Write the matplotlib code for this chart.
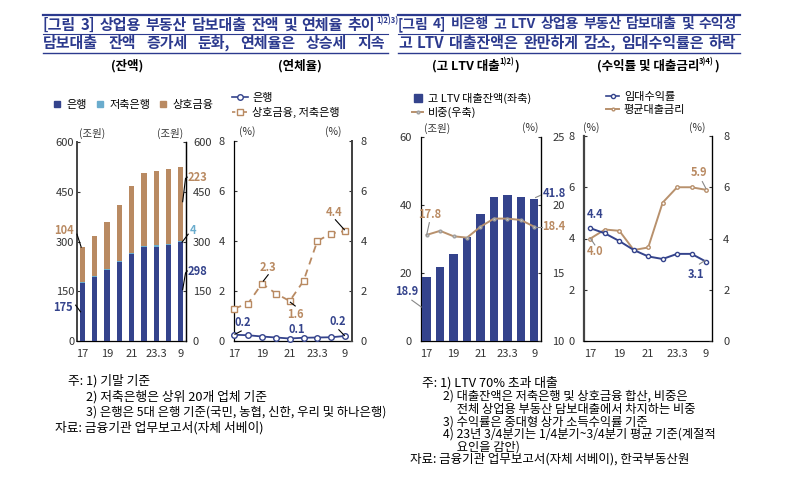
import matplotlib
matplotlib.use('Agg')
import matplotlib.pyplot as plt
from matplotlib.lines import Line2D

plt.rcParams['font.family'] = ['Noto Sans CJK KR', 'DejaVu Sans']

W, H = 793, 491
# ---------------- data ----------------
periods = ['17', '18', '19', '20', '21', '22', '23.3', '6', '9']
tick_pos = [0, 2, 4, 6, 8]
tick_labels = ['17', '19', '21', '23.3', '9']
bank_bal = [175, 194, 214, 237, 262, 282, 284, 289, 298]
savings_bal = [3, 3, 3, 3, 4, 4, 4, 4, 4]
mutual_bal = [104, 119, 143, 171, 201, 220, 224, 225, 223]
bank_dr = [0.25, 0.23, 0.18, 0.14, 0.10, 0.13, 0.14, 0.15, 0.20]
nonbank_dr = [1.3, 1.5, 2.3, 1.9, 1.6, 2.4, 4.0, 4.3, 4.4]
hltv_bal = [18.9, 21.8, 25.5, 30.5, 37.4, 42.5, 42.8, 42.5, 41.8]
hltv_share = [17.8, 18.1, 17.7, 17.6, 18.4, 19.0, 19.0, 18.9, 18.4]
rent_yield = [4.4, 4.2, 3.9, 3.55, 3.3, 3.2, 3.4, 3.4, 3.1]
loan_rate = [4.0, 4.35, 4.3, 3.55, 3.65, 5.4, 6.0, 6.0, 5.9]

NAVY = '#34438c'
LBLUE = '#6aaccd'
TAN = '#b98a62'
TAN2 = '#b8916d'
TITLE = '#2c3a8e'
TXT = '#333333'

fig = plt.figure(figsize=(W / 100, H / 100), dpi=100)
fig.patch.set_facecolor('white')

def fx(x):
    return x / W

def fy(y):
    return 1 - y / H

def add_ax(x0, y0, x1, y1):
    return fig.add_axes([fx(x0), fy(y1), (x1 - x0) / W, (y1 - y0) / H])

def style(ax, lpad, rpad, lcol='black', rcol='black', lw_l=0.9, lw_r=0.9):
    ax.spines['top'].set_visible(False)
    ax.spines['left'].set_color(lcol)
    ax.spines['left'].set_linewidth(lw_l)
    ax.spines['right'].set_color(rcol)
    ax.spines['right'].set_linewidth(lw_r)
    ax.spines['bottom'].set_color('black')
    ax.spines['bottom'].set_linewidth(0.9)
    ax.set_xticks(tick_pos)
    ax.set_xticklabels(tick_labels)
    ax.tick_params(axis='x', length=0, pad=6, labelsize=8, colors=TXT)
    ax.tick_params(axis='y', direction='in', length=2.5, pad=lpad, labelsize=8, colors=TXT)
    ax.patch.set_alpha(0)

def style_r(ax, rpad):
    ax.tick_params(axis='y', direction='in', length=2.5, pad=rpad, labelsize=8, colors=TXT)
    for s in ['top', 'left', 'bottom']:
        ax.spines[s].set_visible(False)
    ax.patch.set_alpha(0)

def leader(ax, xs, ys, color):
    ax.plot(xs, ys, color=color, lw=0.8, clip_on=False, zorder=6)

def label(ax, x, y, s, color, ha='center'):
    ax.text(x, y, s, color=color, fontsize=8, fontweight='bold', ha=ha, va='center',
            clip_on=False, zorder=7)

x = list(range(len(periods)))

# ---------------- chart 1: balances ----------------
ax1 = add_ax(77, 142, 186, 341)
style(ax1, 2, 5, lcol='#444444', lw_l=1.4)
b1 = [bank_bal[i] + savings_bal[i] for i in x]
ax1.bar(x, bank_bal, width=0.42, color=NAVY, zorder=3)
ax1.bar(x, savings_bal, width=0.42, bottom=bank_bal, color=LBLUE, zorder=3)
ax1.bar(x, mutual_bal, width=0.42, bottom=b1, color=TAN, zorder=3)
ax1.set_xlim(-0.44, 8.42)
ax1.set_ylim(0, 600)
ax1.set_yticks([0, 150, 300, 450, 600])
ax1r = ax1.twinx()
ax1r.set_ylim(0, 600)
ax1r.set_yticks([0, 150, 300, 450, 600])
style_r(ax1r, 5)
ax1r.spines['right'].set_linewidth(0.9)
leader(ax1, [-0.44, -0.1], [322, 283], 'black')
label(ax1, -1.5, 333, '104', TAN)
leader(ax1, [-0.55, -0.15], [108, 88], 'black')
label(ax1, -1.6, 102, '175', NAVY)
leader(ax1, [8.15, 8.38, 8.52], [420, 490, 494], 'black')
label(ax1, 8.55, 494, '223', TAN, ha='left')
leader(ax1, [8.1, 8.6], [298, 322], 'black')
label(ax1, 8.7, 332, '4', LBLUE, ha='left')
leader(ax1, [8.15, 8.38, 8.52], [155, 205, 211], 'black')
label(ax1, 8.55, 211, '298', NAVY, ha='left')

# ---------------- chart 2: delinquency ----------------
ax2 = add_ax(234, 141, 352, 341)
style(ax2, 6.5, 6, rcol='#444444', lw_r=1.4)
ax2.set_xlim(-0.02, 8.5)
ax2.set_ylim(0, 8)
ax2.set_yticks([0, 2, 4, 6, 8])
ax2.plot(x, bank_dr, color=NAVY, lw=1.3, marker='o', ms=4, mfc='white', mec=NAVY,
         clip_on=False, zorder=4)
ax2.plot(x, nonbank_dr, color=TAN, lw=1.3, ls=(0, (4, 3)), marker='s', ms=4, mfc='white',
         mec=TAN, clip_on=False, zorder=4)
ax2r = ax2.twinx()
ax2r.set_ylim(0, 8)
ax2r.set_yticks([0, 2, 4, 6, 8])
style_r(ax2r, 6)
ax2r.spines['right'].set_color('#444444')
ax2r.spines['right'].set_linewidth(1.4)
leader(ax2, [2.1, 2.45], [2.4, 2.65], 'black')
label(ax2, 2.4, 2.95, '2.3', TAN)
leader(ax2, [4.05, 4.4], [1.55, 1.4], 'black')
label(ax2, 4.45, 1.07, '1.6', TAN)
leader(ax2, [7.3, 7.95], [4.85, 4.45], 'black')
label(ax2, 7.2, 5.15, '4.4', TAN)
leader(ax2, [0.05, 0.5], [0.27, 0.4], 'black')
label(ax2, 0.65, 0.72, '0.2', NAVY)
label(ax2, 4.5, 0.45, '0.1', NAVY)
leader(ax2, [7.55, 7.95], [0.45, 0.22], 'black')
label(ax2, 7.45, 0.77, '0.2', NAVY)

# ---------------- chart 3: high LTV ----------------
ax3 = add_ax(421, 137, 541, 341)
style(ax3, 6.5, 8)
ax3.bar(x, hltv_bal, width=0.62, color=NAVY, zorder=3)
ax3.set_xlim(-0.42, 8.5)
ax3.set_ylim(0, 60)
ax3.set_yticks([0, 20, 40, 60])
ax3r = ax3.twinx()
ax3r.set_ylim(10, 25)
ax3r.set_yticks([10, 15, 20, 25])
style_r(ax3r, 8)
ax3r.plot(x, hltv_share, color=TAN2, lw=1.4, marker='o', ms=2, mfc='#c8c8c8', mec='#a0a0a0',
          zorder=5)
leader(ax3r, [0.0, 0.2], [17.8, 18.7], '#888888')
label(ax3r, 0.25, 19.3, '17.8', TAN)
leader(ax3, [-1.1, -0.4], [12.0, 10.0], '#888888')
label(ax3, -1.5, 14.5, '18.9', NAVY)
leader(ax3, [8.1, 8.55], [42.2, 43.0], '#888888')
label(ax3, 8.6, 43.3, '41.8', NAVY, ha='left')
leader(ax3r, [8.1, 8.55], [18.4, 18.4], '#888888')
label(ax3r, 8.6, 18.4, '18.4', TAN, ha='left')

# ---------------- chart 4: yields ----------------
ax4 = add_ax(584, 136, 712, 341)
style(ax4, 6.5, 8, lcol='#444444', lw_l=1.6)
ax4.set_xlim(-0.45, 8.42)
ax4.set_ylim(0, 8)
ax4.set_yticks([0, 2, 4, 6, 8])
ax4.plot(x, loan_rate, color=TAN2, lw=1.4, marker='o', ms=2.5, mfc='white', mec=TAN2, zorder=4)
ax4.plot(x, rent_yield, color=NAVY, lw=1.4, marker='o', ms=3, mfc='white', mec=NAVY, zorder=5)
ax4r = ax4.twinx()
ax4r.set_ylim(0, 8)
ax4r.set_yticks([0, 2, 4, 6, 8])
style_r(ax4r, 8)
label(ax4, 0.3, 4.95, '4.4', NAVY)
leader(ax4, [0.0, 0.3], [4.0, 3.75], '#888888')
label(ax4, 0.3, 3.48, '4.0', TAN)
leader(ax4, [7.75, 8.0], [6.22, 5.95], '#888888')
label(ax4, 7.55, 6.58, '5.9', TAN)
leader(ax4, [7.55, 7.95], [3.0, 3.15], '#888888')
label(ax4, 7.3, 2.58, '3.1', NAVY)

# ---------------- legends ----------------
h1 = [Line2D([], [], ls='none', marker='s', ms=5, color=c) for c in (NAVY, LBLUE, TAN)]
fig.legend(h1, ['은행', '저축은행', '상호금융'], loc='center left',
           bbox_to_anchor=(fx(53), fy(105)), ncol=3, frameon=False, fontsize=8,
           handlelength=0.8, handletextpad=0.4, columnspacing=0.8, borderpad=0, borderaxespad=0)
h2 = [Line2D([], [], color=NAVY, lw=1.2, marker='o', ms=4, mfc='white'),
      Line2D([], [], color=TAN, lw=1.2, ls=(0, (2, 1.5)), marker='s', ms=4, mfc='white')]
fig.legend(h2, ['은행', '상호금융, 저축은행'], loc='upper left',
           bbox_to_anchor=(fx(232), fy(93)), frameon=False, fontsize=8,
           handlelength=1.4, handletextpad=0.4, labelspacing=0.35, borderpad=0, borderaxespad=0)
h3 = [Line2D([], [], ls='none', marker='s', ms=6, color=NAVY),
      Line2D([], [], color=TAN2, lw=1.4, marker='o', ms=2, mfc='#c8c8c8', mec='#a0a0a0')]
fig.legend(h3, ['고 LTV 대출잔액(좌축)', '비중(우축)'], loc='upper left',
           bbox_to_anchor=(fx(412), fy(93)), frameon=False, fontsize=8,
           handlelength=1.0, handletextpad=0.4, labelspacing=0.25, borderpad=0, borderaxespad=0)
h4 = [Line2D([], [], color=NAVY, lw=1.2, marker='o', ms=3, mfc='white'),
      Line2D([], [], color=TAN2, lw=1.4, marker='o', ms=2, mfc='white')]
fig.legend(h4, ['임대수익률', '평균대출금리'], loc='upper left',
           bbox_to_anchor=(fx(606), fy(92)), frameon=False, fontsize=8,
           handlelength=1.2, handletextpad=0.4, labelspacing=0.25, borderpad=0, borderaxespad=0)

# ---------------- unit labels ----------------
def ftext(px, py, s, **kw):
    kw.setdefault('fontsize', 7.5)
    kw.setdefault('color', TXT)
    kw.setdefault('ha', 'center')
    kw.setdefault('va', 'center')
    return fig.text(fx(px), fy(py), s, **kw)

ftext(92, 133, '(조원)')
ftext(170, 133, '(조원)')
ftext(247, 132, '(%)')
ftext(333, 132, '(%)')
ftext(437, 128, '(조원)')
ftext(530, 128, '(%)')
ftext(591, 128, '(%)')
ftext(697, 128, '(%)')

# ---------------- headers ----------------
def hline(x0, x1, y, lw):
    fig.add_artist(Line2D([fx(x0), fx(x1)], [fy(y), fy(y)], color=TITLE, lw=lw,
                          transform=fig.transFigure))

hline(43, 388, 15, 1.6)
hline(43, 388, 34, 0.8)
hline(43, 388, 53, 1.0)
hline(398, 740, 15, 1.6)
hline(398, 740, 34, 0.8)
hline(398, 740, 53, 1.0)

fig.canvas.draw()
rend = fig.canvas.get_renderer()

def justify(words, x0, x1, py, size=10, color=TITLE):
    texts = [ftext(x0, py, w, fontsize=size, fontweight='bold', color=color, ha='left')
             for w in words]
    widths = [t.get_window_extent(rend).width for t in texts]
    gap = max(2.5, (x1 - x0 - sum(widths)) / (len(words) - 1))
    cx = x0
    for t, w in zip(texts, widths):
        t.set_x(fx(cx))
        cx += w + gap
    return cx - gap

end = justify(['[그림', '3]', '상업용', '부동산', '담보대출', '잔액', '및', '연체율', '추이'],
              43, 375, 25, size=10.8)
fig.text(fx(end + 1), fy(21), '1)2)3)', fontsize=5.5, fontweight='bold', color=TITLE,
         ha='left', va='center')
justify(['담보대출', '잔액', '증가세', '둔화,', '연체율은', '상승세', '지속'], 43, 385, 43,
        size=10.8)
justify(['[그림', '4]', '비은행', '고', 'LTV', '상업용', '부동산', '담보대출', '및', '수익성'],
        398, 737, 24, size=10.0)
justify(['고', 'LTV', '대출잔액은', '완만하게', '감소,', '임대수익률은', '하락'], 398, 736, 43,
        size=10.8)

ftext(127, 66, '(잔액)', fontsize=9, fontweight='bold', color='black')
ftext(300, 66, '(연체율)', fontsize=9, fontweight='bold', color='black')
t = ftext(466, 66, '(고 LTV 대출', fontsize=9, fontweight='bold', color='black')
bb = t.get_window_extent(rend)
s1 = fig.text(bb.x1 / W, fy(62), '1)2)', fontsize=5.5, fontweight='bold', ha='left', va='center')
bb2 = s1.get_window_extent(rend)
fig.text(bb2.x1 / W, fy(66), ')', fontsize=9, fontweight='bold', ha='left', va='center')
t = ftext(648, 66, '(수익률 및 대출금리', fontsize=9, fontweight='bold', color='black')
bb = t.get_window_extent(rend)
s1 = fig.text(bb.x1 / W, fy(62), '3)4)', fontsize=5.5, fontweight='bold', ha='left', va='center')
bb2 = s1.get_window_extent(rend)
fig.text(bb2.x1 / W, fy(66), ')', fontsize=9, fontweight='bold', ha='left', va='center')

# ---------------- notes ----------------
NK = dict(fontsize=9.2, color='black', ha='left')
ftext(68, 381, '주: 1) 기말 기준', **NK)
ftext(86, 397, '2) 저축은행은 상위 20개 업체 기준', **NK)
ftext(86, 412, '3) 은행은 5대 은행 기준(국민, 농협, 신한, 우리 및 하나은행)', fontsize=8.9,
      color='black', ha='left')
ftext(55, 428, '자료: 금융기관 업무보고서(자체 서베이)', **NK)

ftext(422, 383, '주: 1) LTV 70% 초과 대출', **NK)
notes_r = ['2) 대출잔액은 저축은행 및 상호금융 합산, 비중은',
           '     전체 상업용 부동산 담보대출에서 차지하는 비중',
           '3) 수익률은 중대형 상가 소득수익률 기준',
           '4) 23년 3/4분기는 1/4분기~3/4분기 평균 기준(계절적',
           '     요인을 감안)']
fig.text(fx(443), fy(390), '\n'.join(notes_r), fontsize=8.8, color='black', ha='left',
         va='top', linespacing=0.96)
ftext(410, 459, '자료: 금융기관 업무보고서(자체 서베이), 한국부동산원', fontsize=9.0,
      color='black', ha='left')

fig.savefig('out.png', dpi=100)
